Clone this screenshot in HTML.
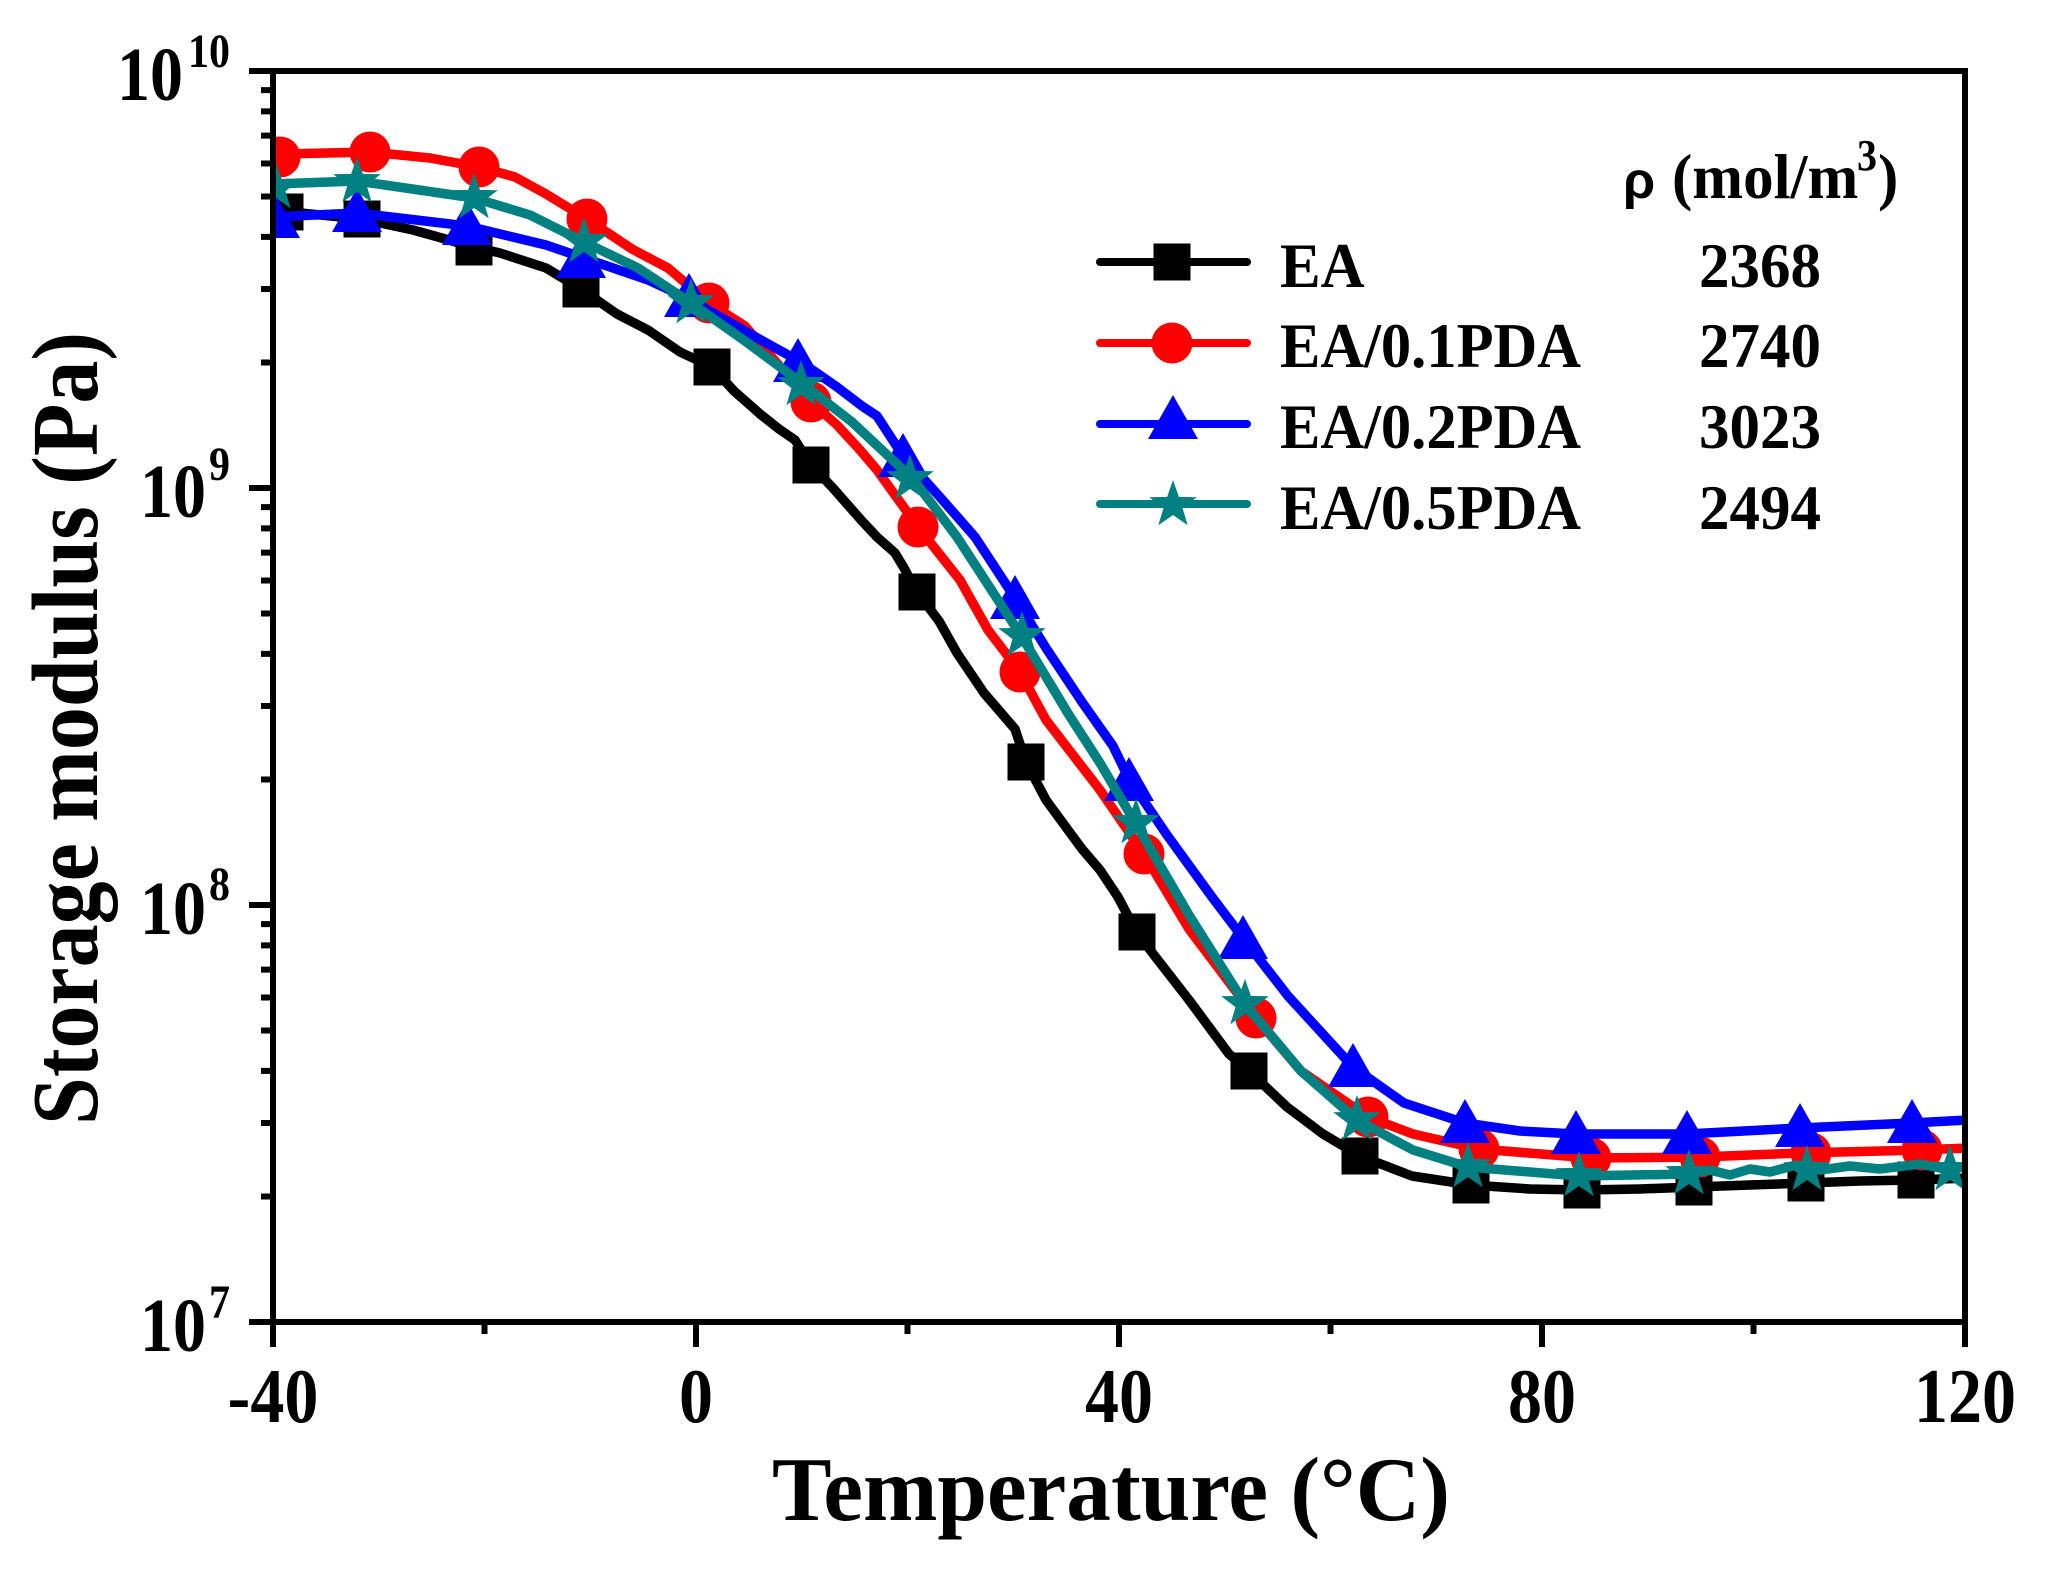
<!DOCTYPE html>
<html><head><meta charset="utf-8"><style>
html,body{margin:0;padding:0;background:#fff;}
svg{display:block;}
text{font-family:"Liberation Serif","Times New Roman",serif;font-weight:bold;fill:#000;}
</style></head><body>
<svg width="2049" height="1574" viewBox="0 0 2049 1574" xmlns="http://www.w3.org/2000/svg">
<defs>
<clipPath id="pa"><rect x="273" y="71" width="1692" height="1251"/></clipPath>
<path id="star" d="M0,-25 L5.88,-8.09 L23.78,-7.73 L9.51,3.09 L14.69,20.23 L0,10 L-14.69,20.23 L-9.51,3.09 L-23.78,-7.73 L-5.88,-8.09 Z"/>
<path id="tri" d="M0,-28 L25,16 L-25,16 Z"/>
<rect id="sq" x="-18.5" y="-18.5" width="37" height="37"/>
<circle id="cir" cx="0" cy="0" r="20.5"/>
</defs>
<rect width="2049" height="1574" fill="#fff"/>

<g clip-path="url(#pa)" fill="none" stroke-width="9.5" stroke-linejoin="round" stroke-linecap="round">
<!-- EA black -->
<polyline stroke="#000" points="273,210 300,213 362,219 413,230 474,247 500,253 546,268 581,289 617,314 648,330 680,352 712,367 734,391 760,414 779,429 795,440 811,465 832,487 862,521 877,537 895,553 904,568 917,592 939,621 957,653 984,693 1015,729 1026,762 1046,800 1082,849 1100,870 1118,897 1137,933 1154,955 1189,1000 1229,1054 1249,1071 1287,1107 1323,1134 1360,1156 1412,1176 1471,1185 1530,1189 1582,1190 1640,1189 1694,1187 1750,1185 1806,1183 1860,1181 1916,1180 1968,1178"/>
<g fill="#000" stroke="none">
<use href="#sq" x="285" y="212"/><use href="#sq" x="362" y="219"/><use href="#sq" x="474" y="247"/><use href="#sq" x="581" y="289"/><use href="#sq" x="712" y="367"/><use href="#sq" x="811" y="465"/><use href="#sq" x="917" y="592"/><use href="#sq" x="1026" y="762"/><use href="#sq" x="1137" y="932"/><use href="#sq" x="1249" y="1071"/><use href="#sq" x="1360" y="1156"/><use href="#sq" x="1471" y="1185"/><use href="#sq" x="1582" y="1190"/><use href="#sq" x="1694" y="1187"/><use href="#sq" x="1806" y="1183"/><use href="#sq" x="1916" y="1180"/>
</g>
<!-- red -->
<polyline stroke="#f00" points="273,153 282,154 370,152 430,158 479,167 515,177 546,194 587,219 632,249 668,268 709,303 745,326 770,355 790,378 811,402 837,425 860,450 877,470 918,527 960,580 988,630 1020,672 1046,720 1100,790 1144,854 1189,929 1256,1018 1301,1071 1368,1117 1413,1134 1479,1149 1591,1158 1700,1157 1800,1153 1920,1150 1968,1148"/>
<g fill="#f00" stroke="none">
<use href="#cir" x="280" y="157"/><use href="#cir" x="370" y="152"/><use href="#cir" x="479" y="167"/><use href="#cir" x="587" y="219"/><use href="#cir" x="709" y="303"/><use href="#cir" x="811" y="402"/><use href="#cir" x="918" y="527"/><use href="#cir" x="1020" y="672"/><use href="#cir" x="1144" y="854"/><use href="#cir" x="1256" y="1018"/><use href="#cir" x="1368" y="1117"/><use href="#cir" x="1479" y="1149"/><use href="#cir" x="1591" y="1158"/><use href="#cir" x="1700" y="1157"/><use href="#cir" x="1811" y="1153"/><use href="#cir" x="1922" y="1150"/>
</g>
<!-- blue -->
<polyline stroke="#00f" points="273,217 357,213 467,226 546,245 581,257 648,280 689,299 729,322 770,345 801,362 837,387 862,406 877,416 903,456 939,496 975,537 1015,598 1046,648 1082,702 1113,746 1129,779 1167,835 1212,897 1243,938 1288,996 1353,1067 1404,1103 1465,1123 1520,1131 1576,1134 1687,1134 1800,1128 1912,1123 1968,1120"/>
<g fill="#00f" stroke="none">
<use href="#tri" x="275" y="222"/><use href="#tri" x="357" y="216"/><use href="#tri" x="467" y="229"/><use href="#tri" x="581" y="262"/><use href="#tri" x="689" y="301"/><use href="#tri" x="798" y="366"/><use href="#tri" x="903" y="461"/><use href="#tri" x="1015" y="603"/><use href="#tri" x="1129" y="785"/><use href="#tri" x="1243" y="943"/><use href="#tri" x="1353" y="1071"/><use href="#tri" x="1465" y="1127"/><use href="#tri" x="1576" y="1138"/><use href="#tri" x="1687" y="1138"/><use href="#tri" x="1800" y="1131"/><use href="#tri" x="1912" y="1127"/>
</g>
<!-- teal -->
<polyline stroke="#008080" points="273,184 357,181 474,198 530,215 584,242 638,268 691,303 745,341 803,384 852,422 913,479 957,537 1022,637 1069,715 1100,763 1136,824 1189,915 1245,1004 1301,1071 1357,1120 1413,1150 1468,1167 1579,1176 1689,1174 1710,1170 1730,1175 1750,1169 1770,1172 1796,1165 1820,1170 1850,1166 1880,1169 1920,1164 1945,1169 1968,1167"/>
<g fill="#008080" stroke="none">
<use href="#star" x="276" y="188"/><use href="#star" x="357" y="182"/><use href="#star" x="474" y="198"/><use href="#star" x="584" y="242"/><use href="#star" x="691" y="303"/><use href="#star" x="801" y="385"/><use href="#star" x="910" y="479"/><use href="#star" x="1022" y="636"/><use href="#star" x="1136" y="823"/><use href="#star" x="1245" y="1004"/><use href="#star" x="1357" y="1120"/><use href="#star" x="1468" y="1167"/><use href="#star" x="1579" y="1176"/><use href="#star" x="1689" y="1174"/><use href="#star" x="1807" y="1170"/><use href="#star" x="1950" y="1170"/>
</g>
</g>

<!-- axes -->
<rect x="273" y="71" width="1692" height="1251" fill="none" stroke="#000" stroke-width="6"/>
<g stroke="#000" stroke-width="6" fill="none">
<path d="M249,71H273 M249,488H273 M249,905H273 M249,1322H273"/>
<path d="M261,362.5H273 M261,289H273 M261,236.9H273 M261,196.5H273 M261,163.5H273 M261,135.6H273 M261,111.4H273 M261,90.1H273
M261,779.5H273 M261,706H273 M261,653.9H273 M261,613.5H273 M261,580.5H273 M261,552.6H273 M261,528.4H273 M261,507.1H273
M261,1196.5H273 M261,1123H273 M261,1070.9H273 M261,1030.5H273 M261,997.5H273 M261,969.6H273 M261,945.4H273 M261,924.1H273"/>
<path d="M273,1322V1347 M696,1322V1347 M1119,1322V1347 M1542,1322V1347 M1965,1322V1347"/>
<path d="M484.5,1322V1334 M907.5,1322V1334 M1330.5,1322V1334 M1753.5,1322V1334"/>
</g>

<!-- x tick labels -->
<g font-size="68" text-anchor="middle">
<text transform="translate(273,1422) scale(1,1.13)">-40</text>
<text transform="translate(696,1422) scale(1,1.13)">0</text>
<text transform="translate(1119,1422) scale(1,1.13)">40</text>
<text transform="translate(1542,1422) scale(1,1.13)">80</text>
<text transform="translate(1965,1422) scale(1,1.13)">120</text>
</g>

<!-- y tick labels -->
<g text-anchor="end">
<text font-size="66" transform="translate(183,100) scale(1,1.16)">10</text>
<text font-size="42" transform="translate(230,67) scale(1,1.13)">10</text>
<text font-size="66" transform="translate(206,517) scale(1,1.16)">10</text>
<text font-size="42" transform="translate(230,480) scale(1,1.13)">9</text>
<text font-size="66" transform="translate(206,934) scale(1,1.16)">10</text>
<text font-size="42" transform="translate(230,900) scale(1,1.13)">8</text>
<text font-size="66" transform="translate(206,1351) scale(1,1.16)">10</text>
<text font-size="42" transform="translate(230,1318) scale(1,1.13)">7</text>
</g>

<!-- axis titles -->
<text font-size="88" transform="translate(772,1520) scale(1,1.03)" textLength="678" lengthAdjust="spacingAndGlyphs">Temperature (°C)</text>
<text font-size="87" transform="translate(97,1125) rotate(-90) scale(1,1.08)" textLength="793" lengthAdjust="spacingAndGlyphs">Storage modulus (Pa)</text>

<!-- legend -->
<g stroke-width="8" stroke-linecap="round">
<line x1="1100" y1="262" x2="1247" y2="262" stroke="#000"/>
<line x1="1100" y1="343" x2="1247" y2="343" stroke="#f00"/>
<line x1="1100" y1="424" x2="1247" y2="424" stroke="#00f"/>
<line x1="1100" y1="504" x2="1247" y2="504" stroke="#008080"/>
</g>
<use href="#sq" x="1172" y="262" fill="#000"/>
<use href="#cir" x="1172" y="343" fill="#f00"/>
<use href="#tri" x="1173" y="423" fill="#00f"/>
<use href="#star" x="1173" y="505" fill="#008080"/>

<g font-size="61">
<text transform="translate(1280,287) scale(1,1.05)">EA</text>
<text transform="translate(1280,367) scale(1,1.05)" textLength="301" lengthAdjust="spacingAndGlyphs">EA/0.1PDA</text>
<text transform="translate(1280,448) scale(1,1.05)" textLength="301" lengthAdjust="spacingAndGlyphs">EA/0.2PDA</text>
<text transform="translate(1280,529) scale(1,1.05)" textLength="301" lengthAdjust="spacingAndGlyphs">EA/0.5PDA</text>
<text transform="translate(1699,287) scale(1,1.05)">2368</text>
<text transform="translate(1699,367) scale(1,1.05)">2740</text>
<text transform="translate(1699,448) scale(1,1.05)">3023</text>
<text transform="translate(1699,529) scale(1,1.05)">2494</text>
</g>
<text x="1623" y="198" font-size="52" style="font-family:'Liberation Sans','DejaVu Sans',sans-serif;font-weight:bold">ρ</text>
<text font-size="61" transform="translate(1672,198) scale(1,1.05)">(mol/m</text>
<text font-size="40" transform="translate(1857,170) scale(1,1.1)">3</text>
<text font-size="61" transform="translate(1878,198) scale(1,1.05)">)</text>
</svg>
</body></html>
